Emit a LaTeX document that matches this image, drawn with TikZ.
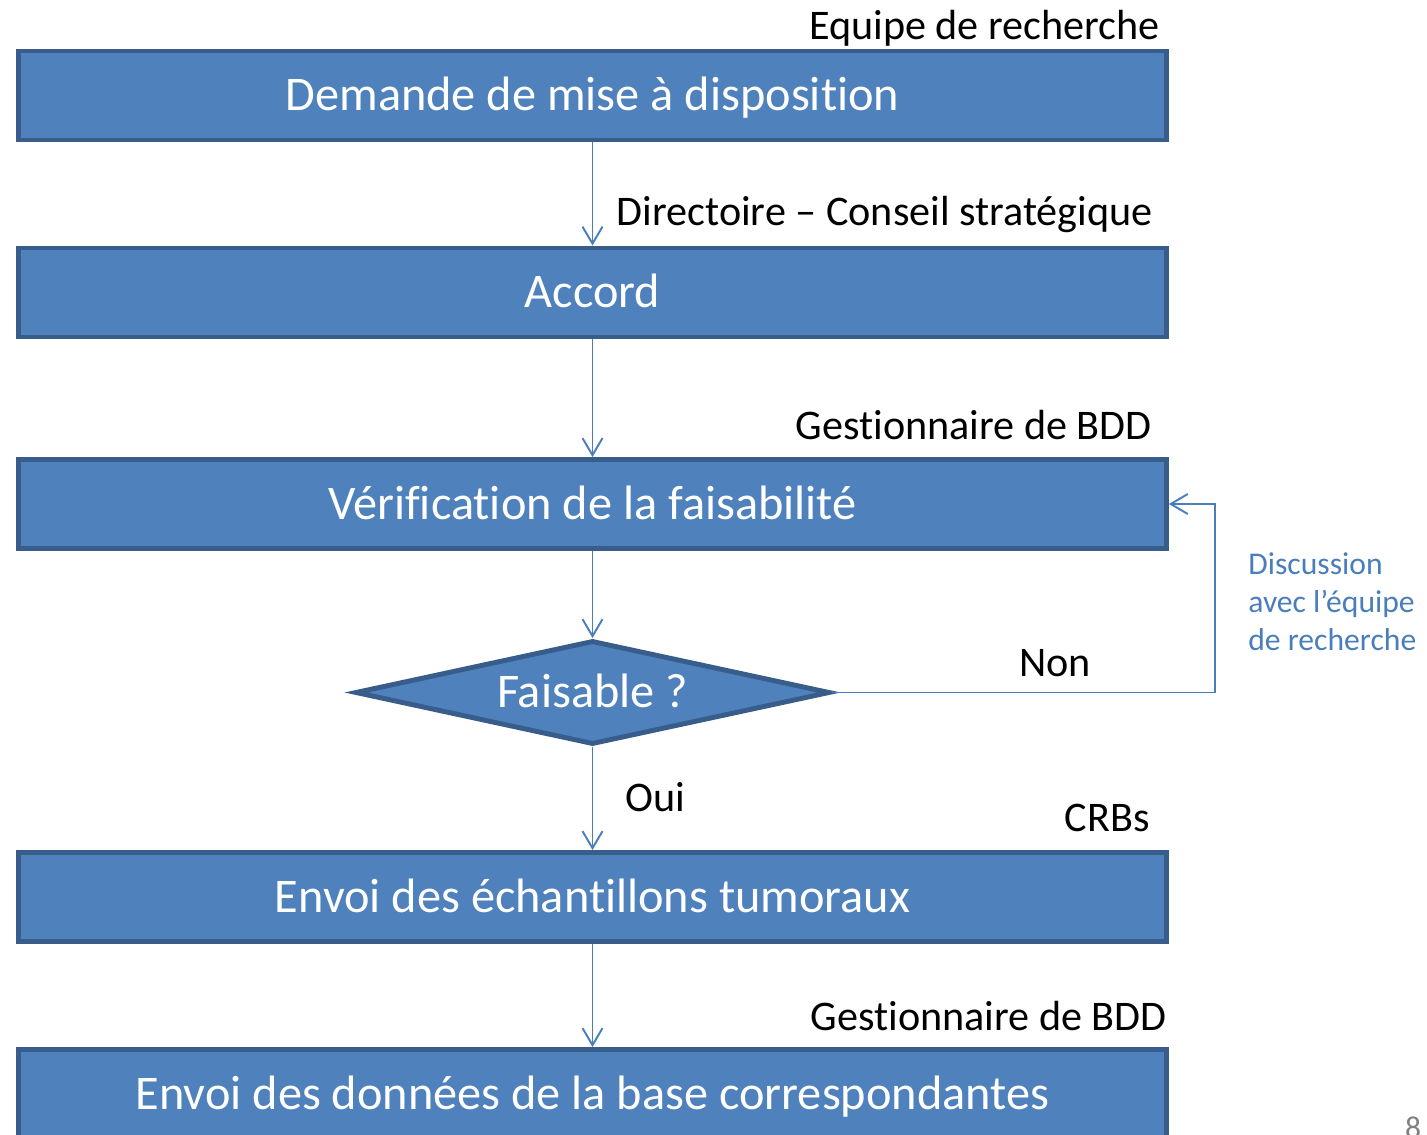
\documentclass[tikz,border=0pt]{standalone}
\usepackage{fontspec}
\setmainfont{Carlito}[Ligatures={NoCommon}]
\usetikzlibrary{shapes.geometric,arrows.meta}
\definecolor{boxfill}{HTML}{4F81BD}
\definecolor{boxline}{HTML}{385D8A}
\definecolor{linkline}{HTML}{4A7EBB}
\tikzset{
  stepbox/.style={rectangle, draw=boxline, fill=boxfill, line width=2.8pt,
    minimum width=22.96cm, minimum height=1.78cm, text=white,
    font=\fontsize{27.5}{30}\selectfont, text height=21pt, text depth=3.4pt},
  choice/.style={diamond, aspect=4.7, draw=boxline, fill=boxfill, line width=2.8pt,
    minimum width=9.5cm, minimum height=2.08cm, inner sep=0pt, text=white,
    font=\fontsize{27.5}{30}\selectfont, text height=21pt, text depth=3.4pt},
  who/.style={anchor=base east, inner sep=0pt, font=\fontsize{24}{28}\selectfont},
  link/.style={draw=linkline, line width=1.1pt, -{Straight Barb[length=3.4mm, width=4mm]}}
}
\begin{document}
\begin{tikzpicture}[x=0.02cm, y=-0.02cm]
\useasboundingbox (0,0) rectangle (1427,1135);
\node (b1) at (592.5,95.5) [stepbox] {Demande de mise à disposition};
\node (b2) at (592.5,292.5) [stepbox] {Accord};
\node (b3) at (592.5,504) [stepbox] {Vérification de la faisabilité};
\node (q) at (592.5,692.5) [choice] {Faisable ?};
\node (b5) at (592.5,897) [stepbox] {Envoi des échantillons tumoraux};
\node (b6) at (592.5,1094) [stepbox] {Envoi des données de la base correspondantes};
\coordinate (loop) at (1215,504);
\node (w1) at (1160,40) [who] {Equipe de recherche};
\node (w2) at (1153,226) [who] {Directoire – Conseil stratégique};
\node (w3) at (1152,439) [who] {Gestionnaire de BDD};
\node (w5) at (1150,831) [who] {CRBs};
\node (w6) at (1167,1030) [who] {Gestionnaire de BDD};
\node (non) at (1091,676) [who] {Non};
\node (oui) at (686,811) [who] {Oui};
\node (disc) at (1248,602) [anchor=west, inner sep=0pt, align=left, text=linkline,
  font=\fontsize{18}{21.6}\selectfont] {Discussion\\avec l’équipe\\de recherche};
\node (page) at (1413,1128) [text=gray, font=\fontsize{18}{20}\selectfont] {8};
\draw[link] (b1) -- (b2);
\draw[link] (b2) -- (b3);
\draw[link] (b3) -- (q);
\draw[link] (q) -- (b5);
\draw[link] (b5) -- (b6);
\draw[link] (q.east) -| (loop) -- (b3.east);
\end{tikzpicture}
\end{document}
